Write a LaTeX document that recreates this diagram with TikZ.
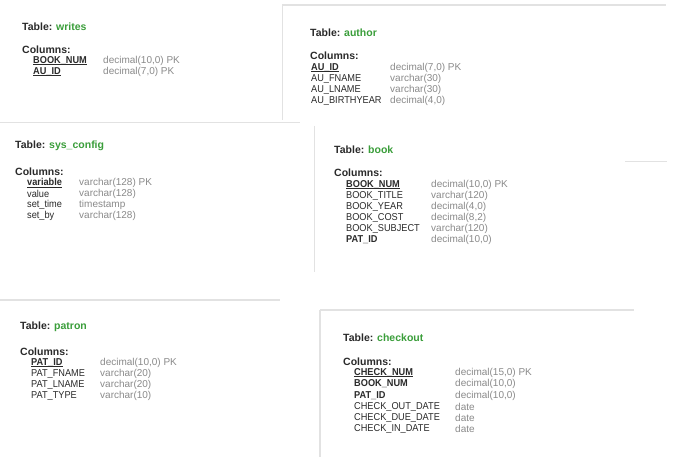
\documentclass[tikz,border=0pt]{standalone}
\usepackage{fontspec}
\setmainfont{Liberation Sans}
\newfontfamily\colfont[FakeStretch=0.92]{Liberation Sans}
\definecolor{tgreen}{HTML}{3A9E3A}
\definecolor{tdark}{HTML}{2A2A2A}
\definecolor{tgray}{HTML}{8A8A8A}
\definecolor{edge}{HTML}{E2E2E2}
\newcommand\pkul[1]{\setbox0\hbox{#1}\rlap{\rule[-1.4pt]{\wd0}{0.7pt}}\box0}
\begin{document}
\begin{tikzpicture}[x=1pt,y=-1pt,
  every node/.style={anchor=west,inner sep=0pt,font=\fontsize{10}{11}\selectfont},
  title/.style={text=tdark,font=\fontsize{10.5}{11}\selectfont\bfseries},
  colname/.style={text=tdark,font=\fontsize{10}{11}\selectfont\colfont},
  coltype/.style={text=tgray},
  border/.style={draw=edge,line width=0.8pt},
  thickborder/.style={draw=edge,line width=2pt}]
\useasboundingbox[fill=white] (0,0) rectangle (682,457);
% panel borders
\draw[thickborder] (282,5) -- (666,5);
\draw[border] (282,5) -- (282,120);
\draw[border] (0,122) -- (300,122);
\draw[border] (314,126) -- (314,272);
\draw[border] (625,161) -- (667,161);
\draw[thickborder] (0,300) -- (280,300);
\draw[thickborder] (320,310) -- (634,310);
\draw[thickborder] (320,310) -- (320,457);
% writes
\node[title] (wT) at (22,27) {Table: \textcolor{tgreen}{writes}};
\node[title] (wC) at (22,50) {Columns:};
\node[colname] (w1) at (33,61) {\pkul{\textbf{BOOK\_NUM}}};
\node[coltype] (w1t) at (103,61) {decimal(10,0) PK};
\node[colname] (w2) at (33,72) {\pkul{\textbf{AU\_ID}}};
\node[coltype] (w2t) at (103,72) {decimal(7,0) PK};
% author
\node[title] (aT) at (310,33) {Table: \textcolor{tgreen}{author}};
\node[title] (aC) at (310,56) {Columns:};
\node[colname] (a1) at (311,68) {\pkul{\textbf{AU\_ID}}};
\node[coltype] (a1t) at (390,68) {decimal(7,0) PK};
\node[colname] (a2) at (311,79) {AU\_FNAME};
\node[coltype] (a2t) at (390,79) {varchar(30)};
\node[colname] (a3) at (311,90) {AU\_LNAME};
\node[coltype] (a3t) at (390,90) {varchar(30)};
\node[colname] (a4) at (311,101) {AU\_BIRTHYEAR};
\node[coltype] (a4t) at (390,101) {decimal(4,0)};
% sys_config
\node[title] (sT) at (15,146) {Table: \textcolor{tgreen}{sys\_config}};
\node[title] (sC) at (15,172) {Columns:};
\node[colname] (s1) at (27,183) {\pkul{\textbf{variable}}};
\node[coltype] (s1t) at (79,183) {varchar(128) PK};
\node[colname] (s2) at (27,194) {value};
\node[coltype] (s2t) at (79,194) {varchar(128)};
\node[colname] (s3) at (27,205) {set\_time};
\node[coltype] (s3t) at (79,205) {timestamp};
\node[colname] (s4) at (27,216) {set\_by};
\node[coltype] (s4t) at (79,216) {varchar(128)};
% book
\node[title] (bT) at (334,150) {Table: \textcolor{tgreen}{book}};
\node[title] (bC) at (334,173) {Columns:};
\node[colname] (b1) at (346,185) {\pkul{\textbf{BOOK\_NUM}}};
\node[coltype] (b1t) at (431,185) {decimal(10,0) PK};
\node[colname] (b2) at (346,196) {BOOK\_TITLE};
\node[coltype] (b2t) at (431,196) {varchar(120)};
\node[colname] (b3) at (346,207) {BOOK\_YEAR};
\node[coltype] (b3t) at (431,207) {decimal(4,0)};
\node[colname] (b4) at (346,218) {BOOK\_COST};
\node[coltype] (b4t) at (431,218) {decimal(8,2)};
\node[colname] (b5) at (346,229) {BOOK\_SUBJECT};
\node[coltype] (b5t) at (431,229) {varchar(120)};
\node[colname] (b6) at (346,240) {\textbf{PAT\_ID}};
\node[coltype] (b6t) at (431,240) {decimal(10,0)};
% patron
\node[title] (pT) at (20,327) {Table: \textcolor{tgreen}{patron}};
\node[title] (pC) at (20,352) {Columns:};
\node[colname] (p1) at (31,363) {\pkul{\textbf{PAT\_ID}}};
\node[coltype] (p1t) at (100,363) {decimal(10,0) PK};
\node[colname] (p2) at (31,374) {PAT\_FNAME};
\node[coltype] (p2t) at (100,374) {varchar(20)};
\node[colname] (p3) at (31,385) {PAT\_LNAME};
\node[coltype] (p3t) at (100,385) {varchar(20)};
\node[colname] (p4) at (31,396) {PAT\_TYPE};
\node[coltype] (p4t) at (100,396) {varchar(10)};
% checkout
\node[title] (cT) at (343,338) {Table: \textcolor{tgreen}{checkout}};
\node[title] (cC) at (343,362) {Columns:};
\node[colname] (c1) at (354,373) {\pkul{\textbf{CHECK\_NUM}}};
\node[coltype] (c1t) at (455,373) {decimal(15,0) PK};
\node[colname] (c2) at (354,384) {\textbf{BOOK\_NUM}};
\node[coltype] (c2t) at (455,384) {decimal(10,0)};
\node[colname] (c3) at (354,396) {\textbf{PAT\_ID}};
\node[coltype] (c3t) at (455,396) {decimal(10,0)};
\node[colname] (c4) at (354,407) {CHECK\_OUT\_DATE};
\node[coltype] (c4t) at (455,407) {date};
\node[colname] (c5) at (354,418) {CHECK\_DUE\_DATE};
\node[coltype] (c5t) at (455,418) {date};
\node[colname] (c6) at (354,429) {CHECK\_IN\_DATE};
\node[coltype] (c6t) at (455,429) {date};
\end{tikzpicture}
\end{document}
